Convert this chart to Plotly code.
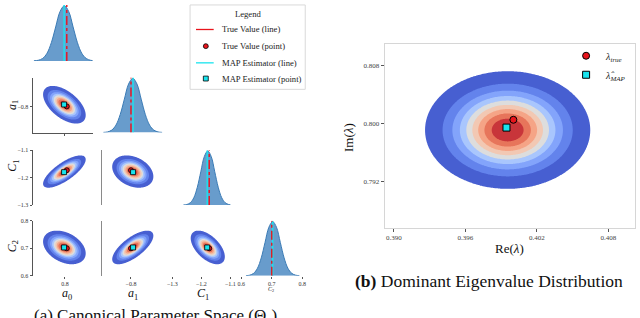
import numpy as np
import plotly.graph_objects as go

W, H = 640, 318
FONT = "Liberation Serif"

# ---------------- data ----------------
param_labels = ["<i>a</i><sub>0</sub>", "<i>a</i><sub>1</sub>", "<i>C</i><sub>1</sub>", "<i>C</i><sub>2</sub>"]
post_mean = [0.798, -0.794, -1.178, 0.703]
post_sd = [0.029, 0.028, 0.024, 0.025]
true_vals = [0.806, -0.800, -1.173, 0.700]
map_vals = [0.797, -0.793, -1.180, 0.703]

pair_rows = [1, 2, 2, 3, 3, 3]
pair_cols = [0, 0, 1, 0, 1, 2]
pair_corr = [-0.55, 0.75, -0.30, -0.35, 0.70, -0.55]

hist_offsets = [-3.5, -3.0, -2.5, -2.0, -1.5, -1.0, -0.5, 0.0, 0.5, 1.0, 1.5, 2.0, 2.5, 3.0, 3.5]
hist_heights = [0.002, 0.011, 0.044, 0.135, 0.325, 0.607, 0.882, 0.985, 0.882, 0.607, 0.325, 0.135, 0.044, 0.011, 0.002]

tick_vals = [[0.8], [-0.8], [-1.3, -1.2, -1.1], [0.6, 0.7, 0.8]]
tick_text = [["0.8"], ["−0.8"], ["−1.3", "−1.2", "−1.1"], ["0.6", "0.7", "0.8"]]

eig_mean = [0.39955, 0.79912]
eig_sd = [0.00283, 0.00332]
eig_corr = 0.0
eig_true = [0.40003, 0.80054]
eig_map = [0.39945, 0.79946]
eig_xticks = [0.390, 0.396, 0.402, 0.408]
eig_yticks = [0.792, 0.800, 0.808]

legend_labels = ["True Value (line)", "True Value (point)", "MAP Estimator (line)", "MAP Estimator (point)"]

# ---------------- styling ----------------
band_colors = ["#475fd1", "#6383ec", "#83a4fb", "#a9c6fd", "#dddddd",
               "#f2c8b3", "#f5a486", "#e7755b", "#c8353a"]
nlev = len(band_colors)
cscale = [[0.0, "#ffffff"]] + [[(k + 1) / nlev, c] for k, c in enumerate(band_colors)]
lev_start = 0.05
lev_size = (1.0 - lev_start) / nlev

RED = "#e8141c"
CYAN = "#18e4ee"

axis_ranges = [[0.692, 0.892], [-0.895, -0.695], [-1.3, -1.1], [0.6, 0.8]]
cols_px = [(28, 89), (99, 160), (170, 229), (240, 302)]
rows_px = [(2, 59), (76, 132), (150, 206), (222, 278)]


def dx(l, r):
    return [l / W, r / W]


def dy(t, b):
    return [1 - b / H, 1 - t / H]


fig = go.Figure()
layout = {}
axis_count = [0]


def new_axes(xdom, ydom, xr, yr):
    axis_count[0] += 1
    n = axis_count[0]
    sx = "" if n == 1 else str(n)
    xa, ya = "xaxis" + sx, "yaxis" + sx
    layout[xa] = dict(domain=xdom, range=xr, anchor="y" + sx, showgrid=False,
                      zeroline=False, showticklabels=False, ticks="", showline=False,
                      tickfont=dict(size=6, color="#333", family=FONT))
    layout[ya] = dict(domain=ydom, range=yr, anchor="x" + sx, showgrid=False,
                      zeroline=False, showticklabels=False, ticks="", showline=False,
                      tickfont=dict(size=6, color="#333", family=FONT))
    return "x" + sx, "y" + sx, xa, ya


def density(xv, yv, mx, my, sx_, sy_, rho):
    X, Y = np.meshgrid(xv, yv)
    u = (X - mx) / sx_
    v = (Y - my) / sy_
    q = (u * u - 2 * rho * u * v + v * v) / (1 - rho * rho)
    return np.exp(-0.5 * q)


def add_contour(z, xv, yv, xref, yref):
    fig.add_trace(go.Contour(
        x=xv, y=yv, z=z, xaxis=xref, yaxis=yref, showscale=False,
        colorscale=cscale, autocontour=False,
        contours=dict(start=lev_start, end=lev_start + (nlev - 1) * lev_size,
                      size=lev_size, coloring="fill"),
        line=dict(width=0, smoothing=0), hoverinfo="skip", showlegend=False))


# ---------------- corner plot ----------------
for i in range(4):
    for j in range(i + 1):
        xdom = dx(*cols_px[j])
        ydom = dy(*rows_px[i])
        if i == j:
            xr = axis_ranges[j]
            xref, yref, xa, ya = new_axes(xdom, ydom, xr, [0, 1.0])
            hx = [post_mean[j] + o * post_sd[j] for o in hist_offsets]
            fig.add_trace(go.Scatter(x=hx, y=hist_heights, xaxis=xref, yaxis=yref,
                                     mode="lines", line=dict(color="#3b7bb5", width=1, shape="spline"),
                                     fill="tozeroy", fillcolor="rgba(62,128,190,0.78)",
                                     hoverinfo="skip", showlegend=False))
            fig.add_trace(go.Scatter(x=[map_vals[j], map_vals[j]], y=[0, 1.0], xaxis=xref, yaxis=yref,
                                     mode="lines", line=dict(color=CYAN, width=1.4),
                                     hoverinfo="skip", showlegend=False))
            fig.add_trace(go.Scatter(x=[true_vals[j], true_vals[j]], y=[0, 1.0], xaxis=xref, yaxis=yref,
                                     mode="lines", line=dict(color=RED, width=1.4, dash="dashdot"),
                                     hoverinfo="skip", showlegend=False))
            if i == 3:
                layout[xa].update(showticklabels=True, tickvals=tick_vals[j], ticktext=tick_text[j],
                                  ticks="outside", ticklen=2, tickcolor="#555")
        else:
            xr, yr = axis_ranges[j], axis_ranges[i]
            xref, yref, xa, ya = new_axes(xdom, ydom, xr, yr)
            k = [n for n in range(len(pair_rows)) if pair_rows[n] == i and pair_cols[n] == j][0]
            xv = np.linspace(xr[0], xr[1], 140)
            yv = np.linspace(yr[0], yr[1], 140)
            z = density(xv, yv, post_mean[j], post_mean[i], post_sd[j], post_sd[i], pair_corr[k])
            add_contour(z, xv, yv, xref, yref)
            fig.add_trace(go.Scatter(x=[true_vals[j]], y=[true_vals[i]], xaxis=xref, yaxis=yref,
                                     mode="markers", marker=dict(color=RED, size=5, symbol="circle",
                                                                 line=dict(color="black", width=0.8)),
                                     hoverinfo="skip", showlegend=False))
            fig.add_trace(go.Scatter(x=[map_vals[j]], y=[map_vals[i]], xaxis=xref, yaxis=yref,
                                     mode="markers", marker=dict(color=CYAN, size=5, symbol="square",
                                                                 line=dict(color="black", width=0.8)),
                                     hoverinfo="skip", showlegend=False))
            if j == 0:
                layout[ya].update(showline=True, linecolor="#555", linewidth=1,
                                  showticklabels=True, tickvals=tick_vals[i], ticktext=tick_text[i],
                                  ticks="outside", ticklen=2, tickcolor="#555")
            if j == 1:
                layout[ya].update(showline=True, linecolor="#8a8a8a", linewidth=1.6)
            if i == 1 and j == 0:
                layout[xa].update(showline=True, linecolor="#555", linewidth=1,
                                  tickvals=tick_vals[j], ticks="outside", ticklen=2, tickcolor="#555")
            if i == 3:
                layout[xa].update(showticklabels=True, tickvals=tick_vals[j], ticktext=tick_text[j],
                                  ticks="outside", ticklen=2, tickcolor="#555")

# ---------------- eigenvalue panel ----------------
xr_e = [0.38926, 0.41023]
yr_e = [0.78563, 0.81098]
xref, yref, xa, ya = new_axes(dx(386, 640), dy(42, 229), xr_e, yr_e)
xv = np.linspace(xr_e[0], xr_e[1], 220)
yv = np.linspace(yr_e[0], yr_e[1], 220)
z = density(xv, yv, eig_mean[0], eig_mean[1], eig_sd[0], eig_sd[1], eig_corr)
add_contour(z, xv, yv, xref, yref)

fig.add_trace(go.Scatter(x=[eig_true[0]], y=[eig_true[1]], xaxis=xref, yaxis=yref, mode="markers",
                         marker=dict(color=RED, size=7, line=dict(color="black", width=1)),
                         name="<i>λ</i><sub><i>true</i></sub>", legend="legend2"))
fig.add_trace(go.Scatter(x=[eig_map[0]], y=[eig_map[1]], xaxis=xref, yaxis=yref, mode="markers",
                         marker=dict(color=CYAN, size=7, symbol="square", line=dict(color="black", width=1)),
                         name="<i>λ̂</i><sub><i>MAP</i></sub>", legend="legend2"))
tf = dict(size=7, color="#444", family=FONT)
layout[xa].update(showline=True, mirror=True, linecolor="#d6d6d6", linewidth=1.2,
                  showticklabels=True, tickvals=eig_xticks, ticktext=[f"{v:.3f}" for v in eig_xticks],
                  ticks="outside", ticklen=3, tickcolor="#555", tickfont=tf)
layout[ya].update(showline=True, mirror=True, linecolor="#d6d6d6", linewidth=1.2,
                  showticklabels=True, tickvals=eig_yticks, ticktext=[f"{v:.3f}" for v in eig_yticks],
                  ticks="outside", ticklen=3, tickcolor="#555", tickfont=tf)

# ---------------- annotations & legend (left, drawn manually) ----------------
ann = []
shapes = []


def text(x, y, s, size, angle=0, xanchor="center", yanchor="middle", color="#111"):
    ann.append(dict(x=x / W, y=1 - y / H, xref="paper", yref="paper", text=s, showarrow=False,
                    font=dict(size=size, family=FONT, color=color), textangle=angle,
                    xanchor=xanchor, yanchor=yanchor))


def px_shape(kind, x0, y0, x1, y1, **kw):
    shapes.append(dict(type=kind, xref="paper", yref="paper", x0=x0 / W, x1=x1 / W,
                       y0=1 - y0 / H, y1=1 - y1 / H, **kw))


px_shape("rect", 188, 2, 305, 88, line=dict(color="#d9d9d9", width=1), fillcolor="white", layer="above")
text(247, 11, "Legend", 8.6, color="#222")
row_y = [27, 44, 61, 77]
px_shape("line", 194, row_y[0], 212, row_y[0], line=dict(color=RED, width=1.3), layer="above")
px_shape("circle", 201.5, row_y[1] - 2.5, 206.5, row_y[1] + 2.5, line=dict(color="black", width=0.8),
         fillcolor=RED, layer="above")
px_shape("line", 194, row_y[2], 212, row_y[2], line=dict(color=CYAN, width=1.3), layer="above")
px_shape("rect", 201.5, row_y[3] - 2.5, 206.5, row_y[3] + 2.5, line=dict(color="black", width=0.8),
         fillcolor=CYAN, layer="above")
for lab, yy in zip(legend_labels, row_y):
    text(218, yy, lab, 8.6, xanchor="left", color="#222")

text(63, 297, param_labels[0], 12)
text(130, 297, param_labels[1], 12)
text(201, 297, param_labels[2], 12)
text(270, 292, param_labels[3], 6)
text(8, 104, param_labels[1], 12, angle=-90)
text(8, 166, param_labels[2], 12, angle=-90)
text(8, 248, param_labels[3], 12, angle=-90)
text(153, 307, "(a) Canonical Parameter Space (Θ<sub><i>c</i></sub>)", 17, yanchor="top")
text(349, 137, "Im(<i>λ</i>)", 13, angle=-90)
text(512, 250, "Re(<i>λ</i>)", 13)
text(492, 283, "<b>(b)</b> Dominant Eigenvalue Distribution", 17.5)

fig.update_layout(
    width=W, height=H, margin=dict(l=0, r=0, t=0, b=0),
    paper_bgcolor="white", plot_bgcolor="white",
    annotations=ann, shapes=shapes, showlegend=True,
    legend2=dict(x=570 / W, y=1 - 39 / H, xanchor="left", yanchor="top",
                 bgcolor="rgba(0,0,0,0)", borderwidth=0,
                 font=dict(size=10, family=FONT, color="#222"), itemwidth=30),
    **layout,
)

fig.write_html("out.html", config={"displayModeBar": False, "staticPlot": True},
               post_script="document.body.style.margin='0';document.body.style.padding='0';"
                           "document.documentElement.style.overflow='hidden';")
